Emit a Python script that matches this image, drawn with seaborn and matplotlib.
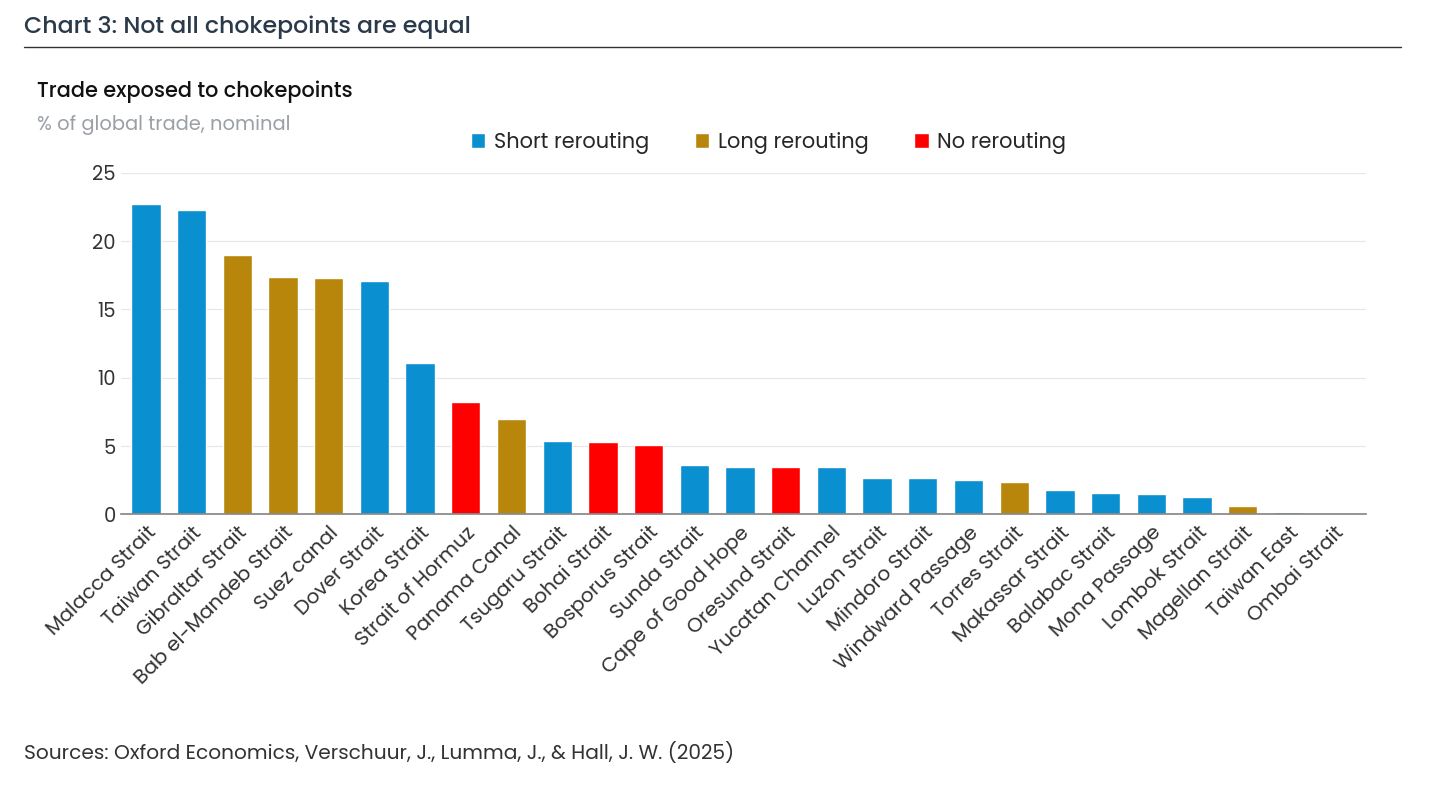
import matplotlib
matplotlib.use("Agg")
import matplotlib.pyplot as plt
import seaborn as sns
import pandas as pd

categories = ["Malacca Strait","Taiwan Strait","Gibraltar Strait","Bab el-Mandeb Strait","Suez canal",
              "Dover Strait","Korea Strait","Strait of Hormuz","Panama Canal","Tsugaru Strait",
              "Bohai Strait","Bosporus Strait","Sunda Strait","Cape of Good Hope","Oresund Strait",
              "Yucatan Channel","Luzon Strait","Mindoro Strait","Windward Passage","Torres Strait",
              "Makassar Strait","Balabac Strait","Mona Passage","Lombok Strait","Magellan Strait",
              "Taiwan East","Ombai Strait"]
values = [22.7,22.3,19.0,17.4,17.3,17.1,11.1,8.2,7.0,5.4,5.3,5.1,3.6,3.5,3.5,3.5,2.7,2.7,2.5,2.4,
          1.8,1.6,1.5,1.3,0.6,0.15,0.03]
groups = ["Short rerouting","Short rerouting","Long rerouting","Long rerouting","Long rerouting",
          "Short rerouting","Short rerouting","No rerouting","Long rerouting","Short rerouting",
          "No rerouting","No rerouting","Short rerouting","Short rerouting","No rerouting",
          "Short rerouting","Short rerouting","Short rerouting","Short rerouting","Long rerouting",
          "Short rerouting","Short rerouting","Short rerouting","Short rerouting","Long rerouting",
          "Short rerouting","Short rerouting"]
palette = {"Short rerouting":"#0A8FD0","Long rerouting":"#B8860B","No rerouting":"#FF0000"}

df = pd.DataFrame({"cat":categories,"val":values,"grp":groups})
sns.set_theme(style="white")
plt.rcParams['font.family'] = ['Poppins','Lato','DejaVu Sans']
fig = plt.figure(figsize=(14.38,7.89), dpi=100)
ax = fig.add_axes([0.084, 0.348, 0.866, 0.433])
sns.barplot(data=df, x="cat", y="val", hue="grp", palette=palette, dodge=False, width=0.64,
            saturation=1, hue_order=["Short rerouting","Long rerouting","No rerouting"], ax=ax, legend=True)
ax.set_ylim(0,25)
ax.set_yticks([0,5,10,15,20,25])
ax.tick_params(axis='y', labelsize=14, colors="#333333", length=0)
ax.set_xticks(range(len(categories)))
ax.set_xticklabels(categories, rotation=45, ha="right", rotation_mode="anchor", fontsize=14.5, color="#333333")
ax.tick_params(axis='x', length=0, pad=6)
ax.set_xlabel(""); ax.set_ylabel("")
ax.grid(axis='y', color="#e6e6e6", linewidth=0.8)
ax.set_axisbelow(True)
for s in ["top","right","left"]:
    ax.spines[s].set_visible(False)
ax.spines["bottom"].set_color("#888888")
ax.set_xlim(-0.55, len(categories)-0.3)
leg = ax.legend(loc="lower center", bbox_to_anchor=(0.52, 1.0), ncol=3, frameon=False, fontsize=15,
                handlelength=0.7, handleheight=0.7, columnspacing=2.2, handletextpad=0.4)
fig.text(0.017, 0.965, "Chart 3: Not all chokepoints are equal", fontsize=17, color="#2b3a4a", weight="medium", va="center")
fig.add_artist(plt.Line2D([0.017,0.974],[0.94,0.94], color="#333333", linewidth=1))
fig.text(0.026, 0.884, "Trade exposed to chokepoints", fontsize=15, color="#111111", weight="medium", va="center")
fig.text(0.026, 0.842, "% of global trade, nominal", fontsize=14, color="#9aa0a6", va="center")
fig.text(0.017, 0.046, "Sources: Oxford Economics, Verschuur, J., Lumma, J., & Hall, J. W. (2025)", fontsize=14.5, color="#333333", va="center")
fig.savefig("out.png", dpi=100)
